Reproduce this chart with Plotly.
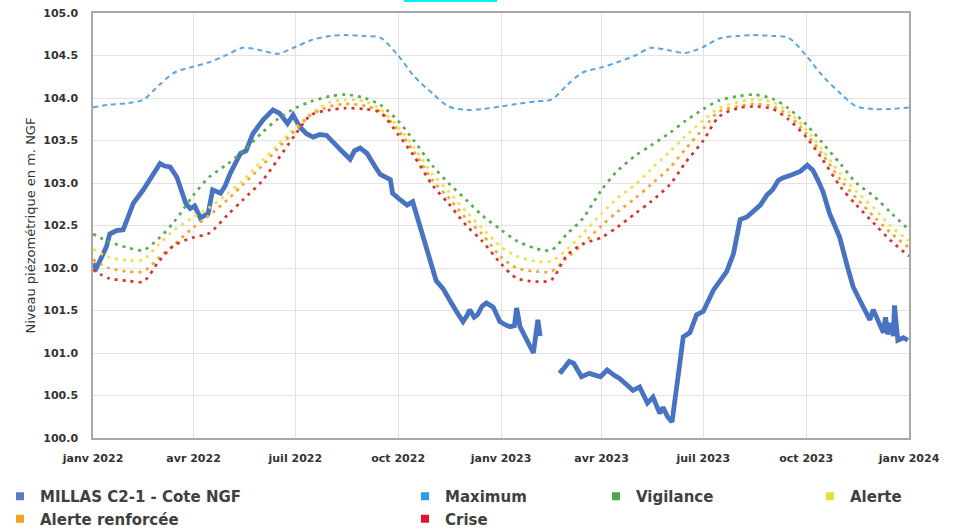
import plotly.graph_objects as go

# ---------------- data ----------------
tick_dates = ["2022-01-01", "2022-04-01", "2022-07-01", "2022-10-01", "2023-01-01",
              "2023-04-01", "2023-07-01", "2023-10-01", "2024-01-01"]
tick_labels = ["janv 2022", "avr 2022", "juil 2022", "oct 2022", "janv 2023",
               "avr 2023", "juil 2023", "oct 2023", "janv 2024"]
y_title = "Niveau piézométrique en m. NGF"

# Measured piezometric level (MILLAS C2-1 - Cote NGF)
level_dates = [
    "2022-01-01", "2022-01-04", "2022-01-07", "2022-01-13", "2022-01-16", "2022-01-22", "2022-01-28",
    "2022-02-01", "2022-02-06", "2022-02-15", "2022-02-24", "2022-03-02", "2022-03-06", "2022-03-11",
    "2022-03-17", "2022-03-22", "2022-03-25", "2022-03-29", "2022-04-02", "2022-04-07", "2022-04-11",
    "2022-04-14", "2022-04-18", "2022-04-25", "2022-04-29", "2022-05-04", "2022-05-13", "2022-05-18",
    "2022-05-24", "2022-06-02", "2022-06-11", "2022-06-17", "2022-06-24", "2022-06-29", "2022-07-05",
    "2022-07-11", "2022-07-17", "2022-07-23", "2022-07-29", "2022-08-04", "2022-08-12", "2022-08-19",
    "2022-08-23", "2022-08-28", "2022-09-03", "2022-09-10", "2022-09-15", "2022-09-24", "2022-09-26",
    "2022-10-03", "2022-10-09", "2022-10-14", "2022-10-18", "2022-10-23", "2022-10-29", "2022-11-04",
    "2022-11-10", "2022-11-14", "2022-11-18", "2022-11-23", "2022-11-28", "2022-12-02", "2022-12-04",
    "2022-12-08", "2022-12-11", "2022-12-15", "2022-12-19", "2022-12-25", "2022-12-31", "2023-01-05",
    "2023-01-09", "2023-01-13", "2023-01-15", "2023-01-18", "2023-01-24", "2023-01-30", "2023-02-01",
    "2023-02-03", "2023-02-05", "2023-02-12", "2023-02-22", "2023-02-24", "2023-03-03", "2023-03-07",
    "2023-03-14", "2023-03-21", "2023-03-31", "2023-04-06", "2023-04-12", "2023-04-17", "2023-04-24",
    "2023-04-29", "2023-05-05", "2023-05-12", "2023-05-17", "2023-05-23", "2023-05-26", "2023-05-30",
    "2023-06-03", "2023-06-07", "2023-06-10", "2023-06-13", "2023-06-19", "2023-06-25", "2023-07-01",
    "2023-07-10", "2023-07-16", "2023-07-22", "2023-07-28", "2023-07-31", "2023-08-03", "2023-08-09",
    "2023-08-16", "2023-08-21", "2023-08-27", "2023-09-01", "2023-09-06", "2023-09-10", "2023-09-17",
    "2023-09-26", "2023-10-02", "2023-10-07", "2023-10-12", "2023-10-16", "2023-10-22", "2023-10-31",
    "2023-11-07", "2023-11-12", "2023-11-18", "2023-11-24", "2023-11-27", "2023-11-30", "2023-12-04",
    "2023-12-09", "2023-12-11", "2023-12-13", "2023-12-16", "2023-12-18", "2023-12-19", "2023-12-22",
    "2023-12-27", "2023-12-31",
]
level_values = [
    102.05, 102.00, 102.08, 102.25, 102.40, 102.44, 102.45,
    102.60, 102.76, 102.92, 103.12, 103.23, 103.20, 103.19,
    103.07, 102.90, 102.76, 102.70, 102.73, 102.59, 102.62,
    102.64, 102.92, 102.88, 102.96, 103.12, 103.35, 103.38,
    103.58, 103.74, 103.86, 103.82, 103.70, 103.80, 103.66,
    103.58, 103.54, 103.57, 103.56, 103.47, 103.37, 103.28,
    103.38, 103.41, 103.35, 103.20, 103.10, 103.04, 102.88,
    102.80, 102.74, 102.78, 102.60, 102.40, 102.13, 101.85,
    101.76, 101.66, 101.58, 101.47, 101.37, 101.45, 101.51,
    101.42, 101.45, 101.55, 101.59, 101.54, 101.37, 101.33,
    101.31, 101.32, 101.53, 101.31, 101.15, 101.00, 101.20,
    101.39, 101.20, None, 100.80, 100.78, 100.90, 100.88,
    100.72, 100.76, 100.72, 100.80, 100.74, 100.70, 100.62,
    100.56, 100.60, 100.41, 100.48, 100.29, 100.36, 100.25,
    100.19, 100.55, 100.88, 101.19, 101.24, 101.45, 101.49,
    101.74, 101.86, 101.96, 102.17, 102.40, 102.57, 102.60,
    102.68, 102.74, 102.86, 102.92, 103.03, 103.06, 103.09,
    103.14, 103.21, 103.15, 103.02, 102.90, 102.64, 102.36,
    102.01, 101.78, 101.62, 101.48, 101.39, 101.51, 101.38,
    101.24, 101.42, 101.22, 101.35, 101.20, 101.56, 101.15,
    101.18, 101.15,
]

# Threshold curves, sampled on the 1st and 15th of each month
threshold_dates = [f"{y}-{m:02d}-{d:02d}" for y in (2022, 2023)
                   for m in range(1, 13) for d in (1, 15)] + ["2024-01-01"]

maximum_values = [
    103.89, 103.92, 103.94, 103.98, 104.15, 104.30, 104.37, 104.42, 104.51, 104.59, 104.56, 104.52,
    104.60, 104.68, 104.73, 104.74, 104.73, 104.71, 104.50, 104.26, 104.05, 103.90, 103.86, 103.87,
    103.90, 103.93, 103.96, 103.98, 104.15, 104.30, 104.36, 104.42, 104.50, 104.59, 104.56, 104.53,
    104.60, 104.70, 104.73, 104.74, 104.73, 104.71, 104.50, 104.27, 104.05, 103.90, 103.87, 103.87,
    103.89,
]
vigilance_values = [
    102.40, 102.31, 102.24, 102.21, 102.35, 102.55, 102.86, 103.07, 103.22, 103.37, 103.59, 103.75,
    103.88, 103.96, 104.02, 104.04, 104.00, 103.92, 103.73, 103.50, 103.20, 103.00, 102.80, 102.62,
    102.45, 102.32, 102.23, 102.21, 102.40, 102.58, 102.92, 103.14, 103.32, 103.44, 103.59, 103.73,
    103.87, 103.97, 104.02, 104.04, 103.99, 103.88, 103.69, 103.48, 103.22, 103.00, 102.84, 102.66,
    102.45,
]
alerte_values = [
    102.22, 102.13, 102.09, 102.10, 102.28, 102.45, 102.60, 102.71, 102.87, 103.03, 103.26, 103.44,
    103.65, 103.82, 103.95, 103.98, 103.96, 103.87, 103.66, 103.42, 103.10, 102.90, 102.66, 102.47,
    102.25, 102.14, 102.08, 102.08, 102.22, 102.40, 102.64, 102.82, 102.98, 103.16, 103.37, 103.55,
    103.74, 103.88, 103.95, 103.98, 103.95, 103.84, 103.63, 103.40, 103.10, 102.90, 102.70, 102.50,
    102.32,
]
alerte_renforcee_values = [
    102.10, 102.00, 101.96, 101.96, 102.12, 102.28, 102.48, 102.62, 102.80, 102.98, 103.20, 103.40,
    103.62, 103.80, 103.90, 103.93, 103.91, 103.84, 103.62, 103.37, 103.03, 102.83, 102.58, 102.40,
    102.13, 102.00, 101.96, 101.96, 102.12, 102.28, 102.50, 102.66, 102.82, 102.98, 103.18, 103.40,
    103.64, 103.84, 103.90, 103.93, 103.90, 103.80, 103.58, 103.35, 103.03, 102.82, 102.60, 102.42,
    102.24,
]
crise_values = [
    101.98, 101.88, 101.85, 101.84, 102.08, 102.27, 102.36, 102.41, 102.62, 102.80, 103.02, 103.27,
    103.57, 103.80, 103.86, 103.88, 103.87, 103.83, 103.57, 103.32, 102.97, 102.76, 102.50, 102.32,
    102.05, 101.88, 101.84, 101.86, 102.15, 102.28, 102.36, 102.48, 102.64, 102.78, 102.98, 103.24,
    103.50, 103.78, 103.88, 103.90, 103.87, 103.75, 103.54, 103.29, 102.95, 102.74, 102.52, 102.33,
    102.14,
]

series_names = ["MILLAS C2-1 - Cote NGF", "Maximum", "Vigilance", "Alerte",
                "Alerte renforcée", "Crise"]

# ---------------- styles ----------------
line_colors = {
    "MILLAS C2-1 - Cote NGF": "#4873c2",
    "Maximum": "#5aa5e3",
    "Vigilance": "#55ad4c",
    "Alerte": "#f0e04a",
    "Alerte renforcée": "#f5a42c",
    "Crise": "#e0302c",
}
legend_colors = {
    "MILLAS C2-1 - Cote NGF": "#5b7cc4",
    "Maximum": "#2e9de3",
    "Vigilance": "#4aa84a",
    "Alerte": "#dfe33a",
    "Alerte renforcée": "#f2a321",
    "Crise": "#e8102a",
}
legend_of = {
    "MILLAS C2-1 - Cote NGF": "legend",
    "Alerte renforcée": "legend",
    "Maximum": "legend2",
    "Crise": "legend2",
    "Vigilance": "legend3",
    "Alerte": "legend4",
}

fig = go.Figure()

fig.add_trace(go.Scatter(
    x=level_dates, y=level_values, mode="lines", name=series_names[0],
    line=dict(color=line_colors[series_names[0]], width=4.8),
    connectgaps=False, showlegend=False,
))

thresholds = [
    ("Maximum", maximum_values, "5px,4px", 2),
    ("Vigilance", vigilance_values, "3px,5px", 2.7),
    ("Alerte", alerte_values, "3px,5px", 2.7),
    ("Alerte renforcée", alerte_renforcee_values, "3px,5px", 2.7),
    ("Crise", crise_values, "3px,5px", 2.7),
]
for name, vals, dash, w in thresholds:
    fig.add_trace(go.Scatter(
        x=threshold_dates, y=vals, mode="lines", name=name,
        line=dict(color=line_colors[name], width=w, dash=dash, shape="spline", smoothing=0.8),
        showlegend=False,
    ))

# legend entries (square markers)
for name in ["MILLAS C2-1 - Cote NGF", "Alerte renforcée", "Maximum", "Crise", "Vigilance", "Alerte"]:
    fig.add_trace(go.Scatter(
        x=[None], y=[None], mode="markers", name=name,
        marker=dict(symbol="square", size=8, color=legend_colors[name]),
        legend=legend_of[name], showlegend=True,
    ))

axis_font = dict(family="DejaVu Sans", size=11, color="#333333", weight="bold")
legend_font = dict(family="DejaVu Sans", size=15, color="#404040", weight="bold")


def leg(xpix):
    return dict(xref="container", yref="container", x=xpix / 968, y=1 - 480 / 531,
                xanchor="left", yanchor="top", orientation="v",
                bgcolor="rgba(0,0,0,0)", font=legend_font, tracegroupgap=0)


fig.update_layout(
    width=968, height=531,
    margin=dict(l=93, r=59, t=13, b=93, autoexpand=False),
    paper_bgcolor="white", plot_bgcolor="white",
    xaxis=dict(
        range=["2022-01-01", "2024-01-01"], tickvals=tick_dates, ticktext=tick_labels,
        showgrid=True, gridcolor="#e3e3e3", gridwidth=1,
        showline=True, linecolor="#a8a8a8", linewidth=1.5, mirror=True,
        ticks="", tickfont=axis_font, ticklabelstandoff=9, zeroline=False,
        automargin=False, tickangle=0,
    ),
    yaxis=dict(
        range=[100, 105], dtick=0.5, tick0=100, tickformat=".1f",
        showgrid=True, gridcolor="#e3e3e3", gridwidth=1,
        showline=True, linecolor="#a8a8a8", linewidth=1.5, mirror=True,
        ticks="", tickfont=axis_font, ticklabelstandoff=11, zeroline=False,
        automargin=False,
    ),
    annotations=[dict(
        text=y_title, xref="paper", yref="paper", x=(30 - 93) / 816, y=0.5,
        textangle=-90, showarrow=False, xanchor="center", yanchor="middle",
        font=dict(family="DejaVu Sans", size=13, color="#333333"),
    )],
    legend=leg(0),
    legend2=leg(405),
    legend3=leg(596),
    legend4=leg(810),
    shapes=[dict(type="rect", xref="paper", yref="paper",
                 x0=(404 - 93) / 816, x1=(497 - 93) / 816,
                 y0=1 + 11 / 425, y1=1 + 13 / 425,
                 fillcolor="#00f0ff", line=dict(width=0))],
    showlegend=True,
)

fig.write_html("out.html", config={"displayModeBar": False},
               post_script="document.body.style.margin='0px';")
